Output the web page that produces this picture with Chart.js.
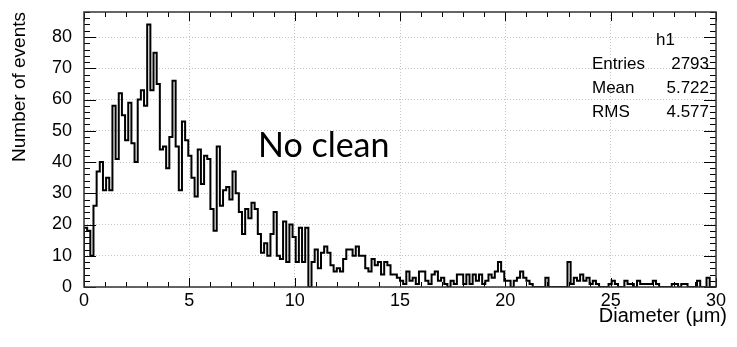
<!DOCTYPE html>
<html><head><meta charset="utf-8">
<script src="https://cdn.jsdelivr.net/npm/chart.js@4.4.1/dist/chart.umd.min.js"></script>
<style>
html,body{margin:0;padding:0;background:#fff;}
#wrap{position:relative;width:737px;height:347px;overflow:hidden;}
canvas{position:absolute;left:0;top:0;}
.t{position:absolute;font-family:"Liberation Sans",Arial,sans-serif;color:#000;white-space:nowrap;line-height:1;}
.row{position:absolute;left:592px;width:117px;display:flex;justify-content:space-between;font-family:"Liberation Sans",Arial,sans-serif;font-size:17px;line-height:1;}
</style></head><body>
<div id="wrap">
<canvas id="c" width="737" height="347"></canvas>
<div id="overlay"></div>
</div>
<script>
// ---- data ----
const xMin = 0, xMax = 30, nBins = 200;
const counts = [
19,18,10,26,37,40,31,35,31,58,41,62,55,47,59,46,40,60,63,58,
84,63,75,65,44,45,38,48,66,45,31,53,47,42,35,29,44,33,42,41,
25,18,45,26,31,32,28,37,30,24,17,25,22,27,25,17,11,14,10,17,
24,10,9,21,8,20,16,8,19,8,19,0,8,12,6,11,13,11,7,5,
6,5,9,12,12,10,13,10,10,6,5,9,7,8,4,8,7,4,4,3,
2,1,5,2,3,1,5,5,2,1,4,5,2,3,1,0,2,1,4,4,
1,4,1,4,2,4,1,2,4,3,5,8,5,2,2,0,2,3,5,3,
2,1,0,0,0,0,3,0,0,0,0,0,0,8,1,3,2,4,2,3,
1,2,1,0,0,0,1,2,1,0,0,2,1,1,0,2,1,1,1,1,
2,1,0,0,0,0,1,1,0,1,1,0,0,0,2,0,0,3,0,0
];
const yTicks = [0,10,20,30,40,50,60,70,80];
const xTicks = [0,5,10,15,20,25,30];
const yMax = 88;
const histName = "h1";
const statLabels = ["Entries","Mean","RMS"];
const statValues = ["2793","5.722","4.577"];
const annotation = "No clean";
const xTitle = "Diameter (\u03bcm)";
const yTitle = "Number of events";

// ---- build step points from bin low edges ----
const bw = (xMax - xMin) / nBins;
const pts = [{x: xMin, y: 0}];
counts.forEach((v, i) => pts.push({x: xMin + i * bw, y: v}));
pts.push({x: xMax, y: counts[counts.length - 1]});
pts.push({x: xMax, y: 0});

// ---- text overlay ----
const ov = document.getElementById('overlay');
function addDiv(cls, text, style){ const d=document.createElement('div'); d.className=cls; d.textContent=text; d.setAttribute('style',style); ov.appendChild(d); return d; }
addDiv('t', annotation, 'left:258px;top:127px;font-family:Lato,"Open Sans",sans-serif;font-size:34px;');
addDiv('t', histName, 'left:656px;top:31px;font-size:17px;');
statLabels.forEach((l, i) => {
  const r = document.createElement('div'); r.className = 'row'; r.style.top = (55 + i * 24) + 'px';
  const a = document.createElement('span'); a.textContent = l;
  const b = document.createElement('span'); b.textContent = statValues[i];
  r.appendChild(a); r.appendChild(b); ov.appendChild(r);
});
addDiv('t', xTitle, 'right:10px;top:305px;font-size:20px;');

// ---- ROOT-like frame & inside ticks ----
const rootFrame = {
  id: 'rootFrame',
  afterDraw(chart){
    const {ctx, chartArea: a, scales: {x, y}} = chart;
    ctx.save();
    ctx.strokeStyle = '#000'; ctx.lineWidth = 1;
    ctx.beginPath();
    for (let v = xMin; v <= xMax; v += 1) {
      const p = Math.round(x.getPixelForValue(v)) + 0.5;
      const len = (v % 5 === 0) ? 9 : 5;
      ctx.moveTo(p, a.bottom); ctx.lineTo(p, a.bottom - len);
      ctx.moveTo(p, a.top); ctx.lineTo(p, a.top + len);
    }
    for (let v = 0; v <= yMax; v += 2) {
      const p = Math.round(y.getPixelForValue(v)) + 0.5;
      const len = (v % 10 === 0) ? 12 : 6;
      ctx.moveTo(a.left, p); ctx.lineTo(a.left + len, p);
      ctx.moveTo(a.right, p); ctx.lineTo(a.right - len, p);
    }
    ctx.stroke();
    ctx.strokeStyle = '#333'; ctx.lineWidth = 1.5;
    ctx.strokeRect(a.left, a.top, a.right - a.left, a.bottom - a.top);
    ctx.restore();
  }
};

const tickFont = {family: '"Liberation Sans", Arial, sans-serif', size: 18};
new Chart(document.getElementById('c'), {
  type: 'line',
  data: { datasets: [{
    data: pts, parsing: false, stepped: 'before',
    borderColor: '#000', borderWidth: 2, pointRadius: 0, fill: false, tension: 0
  }]},
  options: {
    responsive: false, animation: false, devicePixelRatio: 1,
    layout: {padding: {top: 12, right: 21, left: 0, bottom: 0}},
    plugins: {legend: {display: false}, tooltip: {enabled: false}},
    scales: {
      x: {
        type: 'linear', min: xMin, max: xMax,
        afterFit(s){ s.height = 60; s.paddingLeft = 0; s.paddingRight = 0; },
        afterBuildTicks(s){ s.ticks = xTicks.map(v => ({value: v})); },
        ticks: {font: tickFont, color: '#000', padding: 3, maxRotation: 0, autoSkip: false},
        grid: {color: '#c4c4c4', drawTicks: false, lineWidth: 1},
        border: {display: false, dash: [1, 2]},
        title: {display: false}
      },
      y: {
        type: 'linear', min: 0, max: yMax,
        afterFit(s){ s.width = 84; s.paddingTop = 0; s.paddingBottom = 0; },
        afterBuildTicks(s){ s.ticks = yTicks.map(v => ({value: v})); },
        ticks: {font: tickFont, color: '#000', padding: 12},
        grid: {color: '#c4c4c4', drawTicks: false, lineWidth: 1},
        border: {display: false, dash: [1, 2]},
        title: {display: true, text: yTitle, align: 'end', color: '#000',
                font: {family: '"Liberation Sans", Arial, sans-serif', size: 19}, padding: {top: 8, bottom: 0}}
      }
    }
  },
  plugins: [rootFrame]
});
</script>
</body></html>
